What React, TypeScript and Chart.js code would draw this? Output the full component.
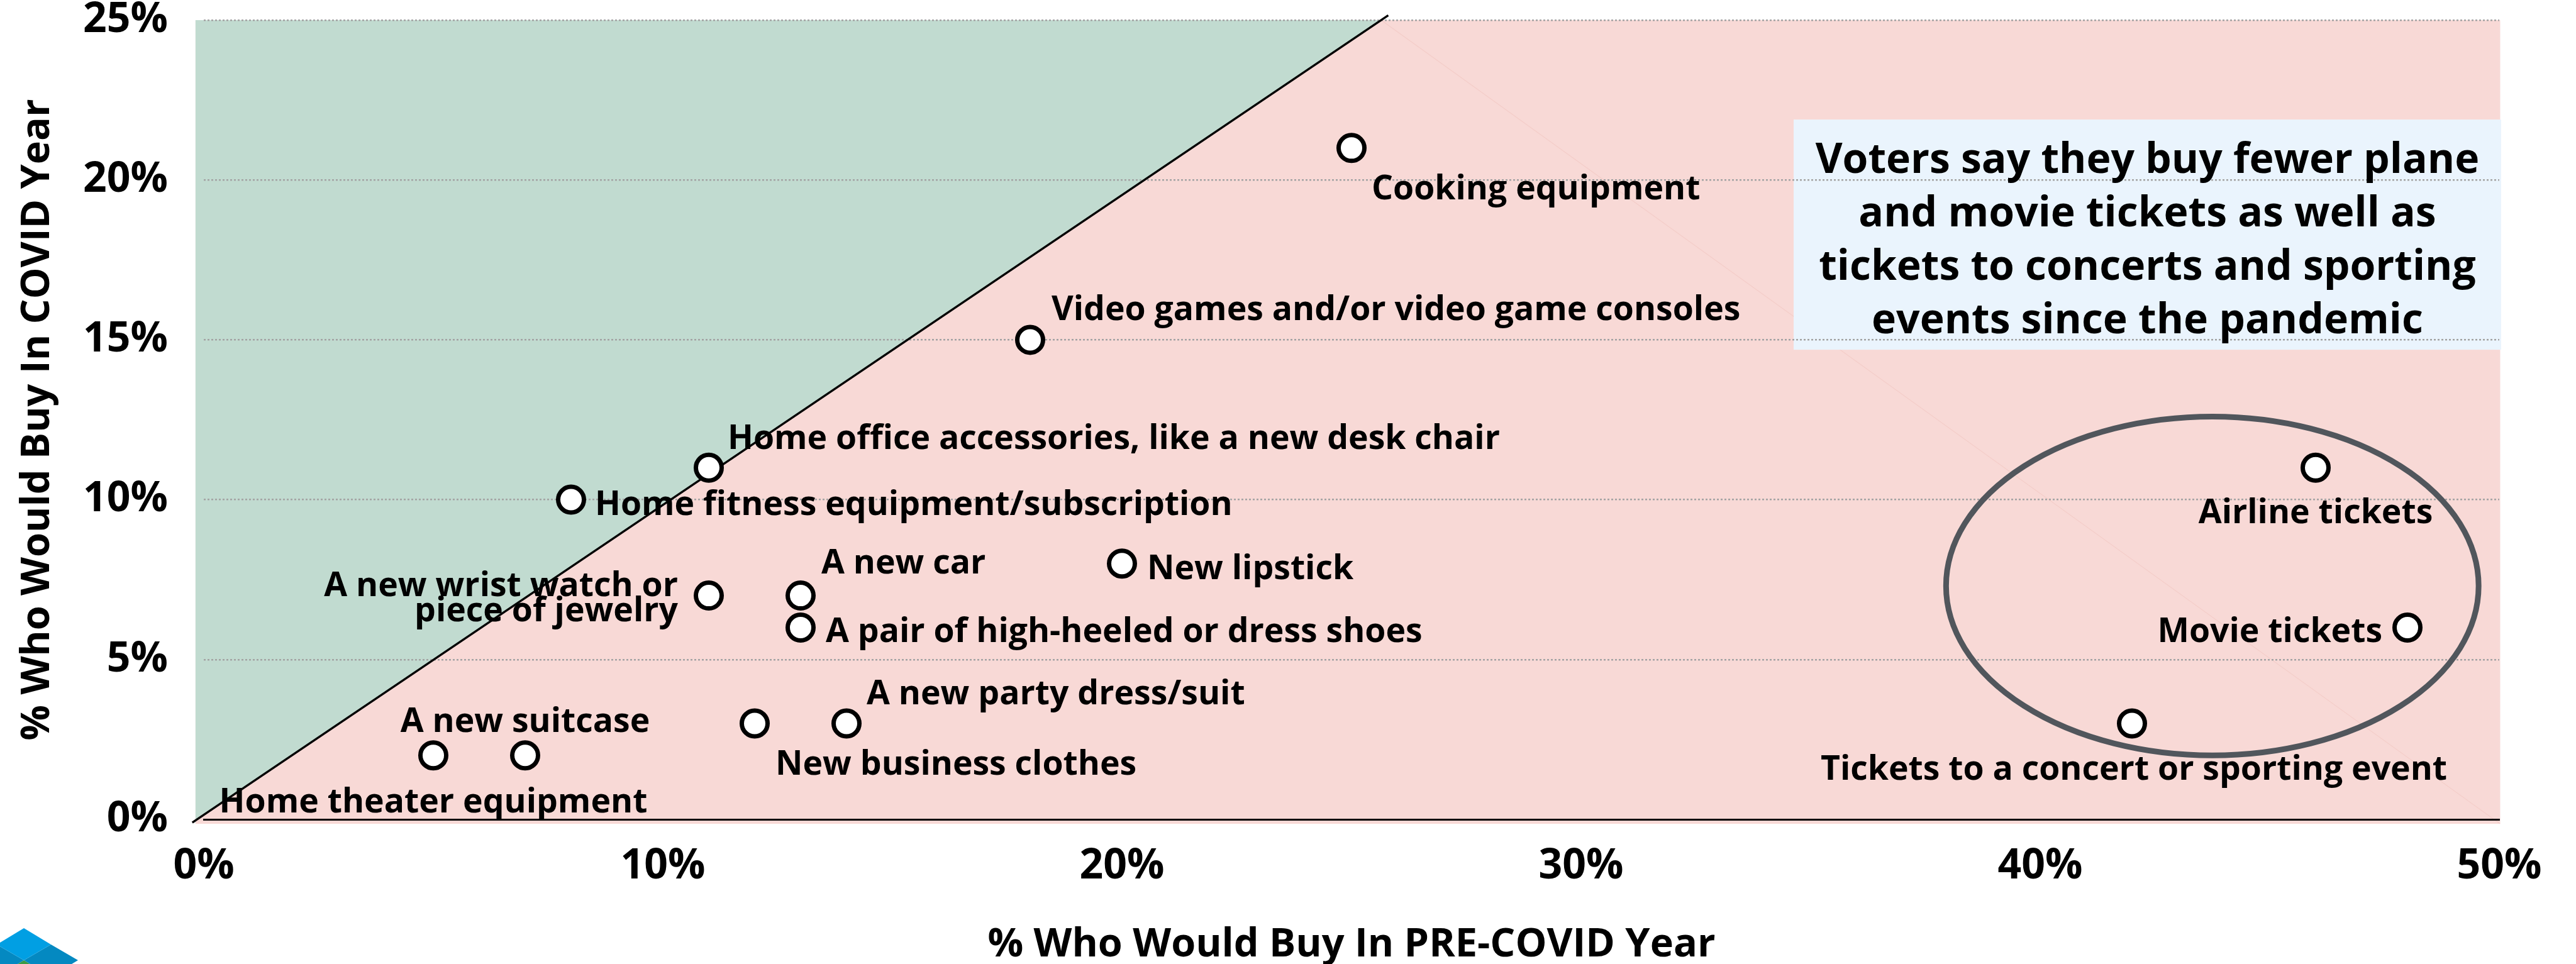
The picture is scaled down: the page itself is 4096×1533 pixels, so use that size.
import React, { useEffect, useRef } from "react";
import { Chart, registerables } from "chart.js";

Chart.register(...registerables);

// ---------------- data ----------------
const itemNames: string[] = [
  "Cooking equipment",
  "Video games and/or video game consoles",
  "Home office accessories, like a new desk chair",
  "Home fitness equipment/subscription",
  "A new wrist watch or\npiece of jewelry",
  "A new car",
  "A pair of high-heeled or dress shoes",
  "New lipstick",
  "A new party dress/suit",
  "New business clothes",
  "A new suitcase",
  "Home theater equipment",
  "Airline tickets",
  "Movie tickets",
  "Tickets to a concert or sporting event",
];
const preCovidPct: number[] = [25, 18, 11, 8, 11, 13, 13, 20, 14, 12, 7, 5, 46, 48, 42];
const covidYearPct: number[] = [21, 15, 11, 10, 7, 7, 6, 8, 3, 3, 2, 2, 11, 6, 3];

const xTickValues: number[] = [0, 10, 20, 30, 40, 50];
const yTickValues: number[] = [0, 5, 10, 15, 20, 25];

// parity reference line (PRE-COVID vs COVID year)
const parityX: number[] = [-0.25, 25.8];
const parityY: number[] = [-0.1, 25.15];

const calloutLines: string[] = [
  "Voters say they buy fewer plane",
  "and movie tickets as well as",
  "tickets to concerts and sporting",
  "events since the pandemic",
];
const xAxisTitle = "% Who Would Buy In PRE-COVID Year";
const yAxisTitle = "% Who Would Buy In COVID Year";

// ---------------- layout / style ----------------
const FONT = "'Open Sans', 'Noto Sans', sans-serif";
const GREEN = "#c1dbd0";
const PINK = "#f8d9d6";
const BOX = "#eaf4fd";
const LABEL_SIZE = 53.5;
const CAP_HALF = LABEL_SIZE * 0.357;

// [dx, dy (cap centre), align] in pixels relative to the point
const labelPlacement: [number, number, CanvasTextAlign][] = [
  [32, 63, "left"],
  [34, -50, "left"],
  [30, -49, "left"],
  [38, 5, "left"],
  [-49, -18, "right"],
  [33, -54, "left"],
  [40, 4, "left"],
  [40, 6, "left"],
  [32, -50, "left"],
  [33, 62, "left"],
  [0, -56, "center"],
  [0, 72, "center"],
  [0, 69, "center"],
  [-40, 4, "right"],
  [3, 70, "center"],
];

// callout box and ellipse in data units
const calloutBox = { x0: 34.63, x1: 50.04, y0: 21.89, y1: 14.69 };
const highlightEllipse = { cx: 43.75, cy: 7.3, rx: 5.8, ry: 5.3 };

const decorPlugin = {
  id: "decor",
  beforeDraw(chart: any) {
    const { ctx } = chart;
    const x = chart.scales.x;
    const y = chart.scales.y;
    const L = x.getPixelForValue(-0.18);
    const R = x.getPixelForValue(50.02);
    const T = y.getPixelForValue(25);
    const B = y.getPixelForValue(-0.14);
    ctx.save();
    ctx.fillStyle = PINK;
    ctx.fillRect(L, T, R - L, B - T);
    const x0 = x.getPixelForValue(parityX[0]);
    const y0 = y.getPixelForValue(parityY[0]);
    const x1 = x.getPixelForValue(parityX[1]);
    const y1 = y.getPixelForValue(parityY[1]);
    const xt = x0 + ((x1 - x0) * (T - y0)) / (y1 - y0);
    ctx.fillStyle = GREEN;
    ctx.beginPath();
    ctx.moveTo(L, T);
    ctx.lineTo(xt, T);
    ctx.lineTo(x0, y0);
    ctx.lineTo(L, y0);
    ctx.closePath();
    ctx.fill();
    // faint seam of the shaded shape
    ctx.strokeStyle = "rgba(230,150,140,0.18)";
    ctx.lineWidth = 1.2;
    ctx.beginPath();
    ctx.moveTo(xt, T);
    ctx.lineTo(R, B);
    ctx.stroke();
    // callout box
    const bx0 = x.getPixelForValue(calloutBox.x0);
    const bx1 = x.getPixelForValue(calloutBox.x1);
    const by0 = y.getPixelForValue(calloutBox.y0);
    const by1 = y.getPixelForValue(calloutBox.y1);
    ctx.fillStyle = BOX;
    ctx.fillRect(bx0, by0, bx1 - bx0, by1 - by0);
    ctx.restore();
  },
  beforeDatasetsDraw(chart: any) {
    const { ctx } = chart;
    const x = chart.scales.x;
    const y = chart.scales.y;
    const cx = x.getPixelForValue(highlightEllipse.cx);
    const cy = y.getPixelForValue(highlightEllipse.cy);
    const rx = Math.abs(x.getPixelForValue(highlightEllipse.cx + highlightEllipse.rx) - cx);
    const ry = Math.abs(y.getPixelForValue(highlightEllipse.cy + highlightEllipse.ry) - cy);
    ctx.save();
    ctx.strokeStyle = "#51565c";
    ctx.lineWidth = 9;
    ctx.beginPath();
    ctx.ellipse(cx, cy, rx, ry, 0, 0, Math.PI * 2);
    ctx.stroke();
    ctx.restore();
  },
  afterDraw(chart: any) {
    const { ctx } = chart;
    const x = chart.scales.x;
    const y = chart.scales.y;
    ctx.save();
    ctx.fillStyle = "#000";
    ctx.textBaseline = "alphabetic";
    // point labels
    ctx.font = `bold ${LABEL_SIZE}px ${FONT}`;
    itemNames.forEach((name, i) => {
      const px = x.getPixelForValue(preCovidPct[i]);
      const py = y.getPixelForValue(covidYearPct[i]);
      const [dx, dy, align] = labelPlacement[i];
      ctx.textAlign = align;
      name.split("\n").forEach((line, j) => {
        ctx.fillText(line, px + dx, py + dy + CAP_HALF + j * 40);
      });
    });
    // callout text
    const bx0 = x.getPixelForValue(calloutBox.x0);
    const bx1 = x.getPixelForValue(calloutBox.x1);
    const by0 = y.getPixelForValue(calloutBox.y0);
    ctx.font = `bold 66px ${FONT}`;
    ctx.textAlign = "center";
    calloutLines.forEach((line, j) => {
      ctx.fillText(line, (bx0 + bx1) / 2, by0 + 85 + j * 85);
    });
    // axis titles
    ctx.font = `bold 63px ${FONT}`;
    ctx.textAlign = "center";
    ctx.fillText(xAxisTitle, (chart.chartArea.left + chart.chartArea.right) / 2, 1521);
    ctx.save();
    ctx.translate(78, (chart.chartArea.top + chart.chartArea.bottom) / 2);
    ctx.rotate(-Math.PI / 2);
    ctx.fillText(yAxisTitle, 0, 0);
    ctx.restore();
    // logo (bottom-left, cut off)
    const poly = (pts: number[][], col: string) => {
      ctx.fillStyle = col;
      ctx.beginPath();
      pts.forEach((p, k) => (k ? ctx.lineTo(p[0], p[1]) : ctx.moveTo(p[0], p[1])));
      ctx.closePath();
      ctx.fill();
    };
    poly([[38, 1527], [81, 1553], [38, 1578], [-5, 1553]], "#3b9b48");
    poly([[81, 1502], [124, 1527], [81, 1553], [38, 1527]], "#0489c1");
    poly([[-5, 1502], [38, 1527], [-5, 1553], [-48, 1527]], "#0489c1");
    poly([[38, 1476], [81, 1502], [38, 1527], [-5, 1502]], "#019fe3");
    ctx.restore();
  },
};

export default function App() {
  const canvasRef = useRef<HTMLCanvasElement | null>(null);

  useEffect(() => {
    const canvas = canvasRef.current;
    if (!canvas) return;
    const points = preCovidPct.map((v, i) => ({ x: v, y: covidYearPct[i] }));
    const parity = parityX.map((v, i) => ({ x: v, y: parityY[i] }));
    const chart = new Chart(canvas, {
      type: "scatter",
      data: {
        datasets: [
          {
            label: "Items",
            data: points,
            pointRadius: 20.5,
            pointHoverRadius: 20.5,
            pointBackgroundColor: "#ffffff",
            pointBorderColor: "#000000",
            pointBorderWidth: 7,
            showLine: false,
          } as any,
          {
            label: "Parity",
            data: parity,
            showLine: true,
            borderColor: "#000000",
            borderWidth: 3.5,
            pointRadius: 0,
            clip: false,
          } as any,
        ],
      },
      options: {
        responsive: false,
        devicePixelRatio: 1,
        animation: false,
        events: [],
        layout: { padding: { top: 32, right: 122, left: 0, bottom: 0 } },
        plugins: {
          legend: { display: false },
          tooltip: { enabled: false },
        },
        scales: {
          x: {
            type: "linear",
            min: 0,
            max: 50,
            afterBuildTicks: (s: any) => {
              s.ticks = xTickValues.map((v) => ({ value: v }));
            },
            afterFit: (s: any) => {
              s.height = 230;
              s.paddingLeft = 0;
              s.paddingRight = 0;
            },
            ticks: {
              color: "#000",
              padding: 36,
              maxRotation: 0,
              autoSkip: false,
              font: { family: FONT, size: 66, weight: "bold", lineHeight: 1.2 },
              callback: (v: any) => `${v}%`,
            },
            grid: { display: false, drawTicks: false },
            border: { display: true, color: "#000", width: 3 },
          },
          y: {
            type: "linear",
            min: 0,
            max: 25,
            afterBuildTicks: (s: any) => {
              s.ticks = yTickValues.map((v) => ({ value: v }));
            },
            afterFit: (s: any) => {
              s.width = 324;
              s.paddingTop = 0;
              s.paddingBottom = 0;
            },
            ticks: {
              color: "#000",
              padding: 57,
              autoSkip: false,
              font: { family: FONT, size: 66, weight: "bold", lineHeight: 1.0 },
              callback: (v: any) => `${v}%`,
            },
            grid: {
              drawTicks: false,
              lineWidth: 2.5,
              color: (c: any) => (c.tick && c.tick.value === 0 ? "rgba(0,0,0,0)" : "#a3a3a3"),
            },
            border: { display: false, dash: [3, 3] },
          },
        },
      },
      plugins: [decorPlugin as any],
    });
    return () => chart.destroy();
  }, []);

  return (
    <div style={{ position: "fixed", left: 0, top: 0, width: 4096, height: 1533, background: "#fff" }}>
      <canvas ref={canvasRef} width={4096} height={1533} style={{ width: 4096, height: 1533, display: "block" }} />
    </div>
  );
}
